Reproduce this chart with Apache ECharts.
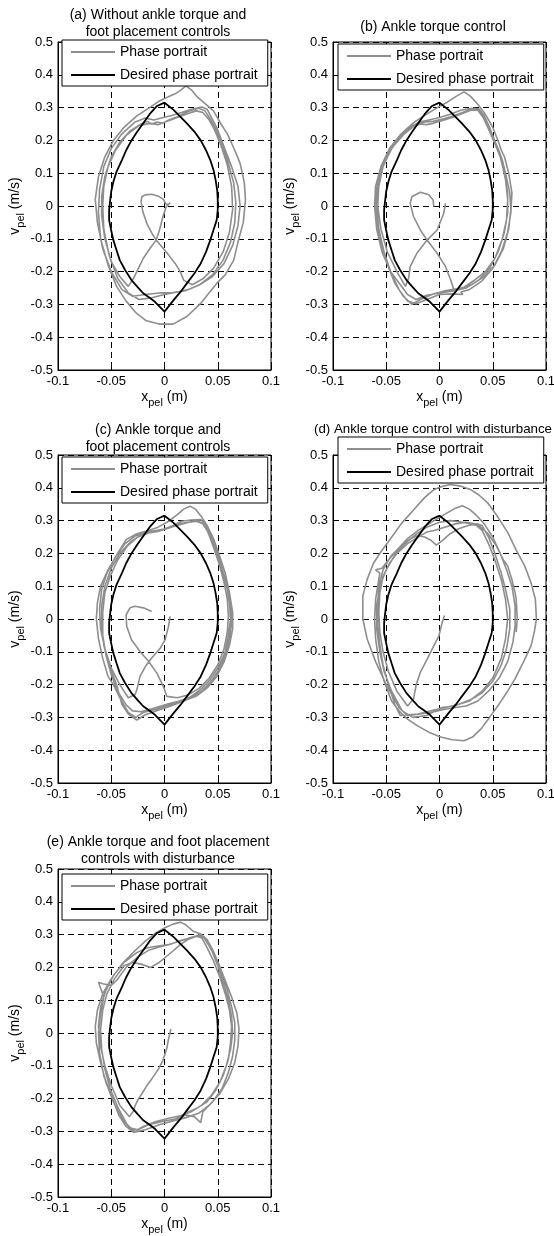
<!DOCTYPE html>
<html>
<head>
<meta charset="utf-8">
<script src="https://cdn.jsdelivr.net/npm/echarts@6/dist/echarts.min.js"></script>
<style>
  html, body { margin: 0; padding: 0; background: #fff; }
  #chart { width: 554px; height: 1236px; }
</style>
</head>
<body>
<div id="chart"></div>
<script>
// Axis ranges and tick spacing (pelvis position in m, pelvis velocity in m/s)
const xTicks = [-0.1, -0.05, 0, 0.05, 0.1];
const yTicks = [-0.5, -0.4, -0.3, -0.2, -0.1, 0, 0.1, 0.2, 0.3, 0.4, 0.5];

const legendNames = ['Phase portrait', 'Desired phase portrait'];

const panelTitles = [
  '(a) Without ankle torque and\nfoot placement controls',
  '(b) Ankle torque control',
  '(c) Ankle torque and\nfoot placement controls',
  '(d) Ankle torque control with disturbance',
  '(e) Ankle torque and foot placement\ncontrols with disturbance'
];

// Reference orbit [x_pel, v_pel]
const desiredPortrait = [
  [0,0.315],[-0.007,0.305],[-0.014,0.28],[-0.02,0.252],[-0.026,0.225],[-0.031,0.2],[-0.036,0.17],
  [-0.04,0.14],[-0.045,0.105],[-0.048,0.074],[-0.05,0.045],[-0.051,0.018],[-0.052,-0.012],[-0.052,-0.043],
  [-0.05,-0.075],[-0.048,-0.104],[-0.045,-0.135],[-0.042,-0.165],[-0.037,-0.195],[-0.031,-0.226],
  [-0.025,-0.248],[-0.02,-0.266],[-0.014,-0.28],[-0.009,-0.292],[0,-0.322],[0.0085,-0.287],[0.015,-0.262],
  [0.021,-0.236],[0.028,-0.206],[0.034,-0.175],[0.039,-0.14],[0.043,-0.104],[0.046,-0.073],[0.049,-0.043],
  [0.05,-0.012],[0.05,0.018],[0.0495,0.048],[0.048,0.079],[0.046,0.11],[0.043,0.14],[0.039,0.17],
  [0.034,0.2],[0.028,0.227],[0.021,0.252],[0.015,0.272],[0.0085,0.293],[0,0.315]
];

// Measured trajectories [x_pel, v_pel]
const phaseA = [
  [0.0054,0.010],[0.0016,-0.002],[-0.0015,-0.033],[-0.0047,-0.073],[-0.0078,-0.104],[-0.0135,-0.129],
  [-0.020,-0.16],[-0.0245,-0.19],[-0.029,-0.22],[-0.034,-0.245],
  [-0.042,-0.215],[-0.05,-0.17],[-0.056,-0.1],[-0.059,-0.03],[-0.059,0.03],[-0.056,0.09],[-0.05,0.15],
  [-0.042,0.195],[-0.032,0.23],[-0.022,0.25],[-0.016,0.258],[-0.012,0.25],[-0.007,0.256],[-0.002,0.252],
  [0.004,0.262],[0.012,0.272],[0.022,0.288],[0.032,0.298],[0.038,0.29],[0.043,0.265],[0.048,0.235],
  [0.054,0.19],[0.06,0.13],[0.065,0.07],[0.067,0.01],[0.066,-0.05],[0.062,-0.11],[0.055,-0.165],
  [0.045,-0.21],[0.033,-0.24],[0.02,-0.258],[0.008,-0.264],[-0.005,-0.265],[-0.018,-0.27],[-0.03,-0.275],
  [-0.04,-0.255],
  [-0.05,-0.2],[-0.058,-0.13],[-0.063,-0.05],[-0.065,0.02],[-0.062,0.09],[-0.056,0.15],[-0.048,0.2],
  [-0.038,0.24],[-0.026,0.275],[-0.014,0.3],[-0.005,0.32],[0.003,0.332],[0.01,0.342],[0.016,0.355],
  [0.02,0.366],[0.025,0.355],[0.03,0.335],[0.037,0.315],[0.046,0.29],[0.053,0.25],[0.059,0.22],
  [0.066,0.17],[0.071,0.13],[0.075,0.07],[0.076,0.018],[0.074,-0.05],[0.069,-0.11],[0.065,-0.165],
  [0.057,-0.21],[0.049,-0.236],[0.041,-0.268],[0.034,-0.297],[0.021,-0.337],[0.008,-0.36],[-0.005,-0.36],
  [-0.017,-0.35],[-0.027,-0.325],[-0.036,-0.29],[-0.045,-0.245],
  [-0.053,-0.18],[-0.06,-0.1],[-0.062,-0.02],[-0.061,0.05],[-0.057,0.12],[-0.05,0.175],[-0.04,0.22],
  [-0.028,0.255],[-0.018,0.268],[-0.01,0.262],[-0.003,0.268],[0.006,0.275],[0.016,0.285],[0.026,0.296],
  [0.035,0.302],[0.04,0.295],[0.044,0.27],[0.049,0.24],[0.056,0.18],[0.063,0.12],[0.069,0.06],[0.071,0.0],
  [0.069,-0.06],[0.064,-0.12],[0.056,-0.175],[0.045,-0.215],[0.033,-0.24],[0.022,-0.255],[0.012,-0.262],
  [0.0,-0.27],[-0.012,-0.28],[-0.024,-0.285],[-0.034,-0.265],
  [-0.044,-0.22],[-0.052,-0.15],[-0.057,-0.07],[-0.058,0.0],[-0.057,0.06],[-0.053,0.12],[-0.046,0.17],
  [-0.036,0.215],[-0.024,0.245],[-0.014,0.252],[-0.006,0.248],[0.002,0.258],[0.012,0.27],[0.022,0.282],
  [0.03,0.29],[0.036,0.285],[0.042,0.262],[0.047,0.232],[0.053,0.185],[0.059,0.125],[0.063,0.06],
  [0.064,-0.01],[0.061,-0.08],[0.055,-0.14],[0.046,-0.19],[0.036,-0.222],[0.026,-0.24],
  [0.018,-0.226],[0.0148,-0.2],[0.010,-0.175],[0.0038,-0.149],[-0.0025,-0.124],[-0.0078,-0.104],
  [-0.0119,-0.083],[-0.0166,-0.053],[-0.0204,-0.017],[-0.022,0.013],[-0.0213,0.028],[-0.018,0.034],
  [-0.012,0.036],[-0.0057,0.030],[-0.001,0.020],[0.0013,0.006],[0.004,0.005]
];

const phaseB = [
  [0.0057,0.008],[0.004,-0.022],[-0.0022,-0.073],[-0.0117,-0.104],[-0.0212,-0.144],[-0.0275,-0.185],
  [-0.029,-0.22],[-0.032,-0.245],
  [-0.04,-0.2],[-0.049,-0.14],[-0.055,-0.07],[-0.058,0.0],[-0.057,0.06],[-0.053,0.12],[-0.046,0.17],
  [-0.037,0.21],[-0.027,0.24],[-0.018,0.25],[-0.012,0.248],[-0.006,0.252],[0.002,0.26],[0.012,0.27],
  [0.022,0.283],[0.03,0.293],[0.036,0.292],[0.041,0.27],[0.046,0.235],[0.052,0.19],[0.057,0.15],
  [0.061,0.1],[0.064,0.04],[0.064,-0.02],[0.061,-0.08],[0.055,-0.14],[0.047,-0.19],[0.037,-0.225],
  [0.025,-0.25],[0.012,-0.26],[0.0,-0.265],[-0.012,-0.272],[-0.022,-0.285],[-0.03,-0.27],
  [-0.046,-0.2],[-0.054,-0.14],[-0.059,-0.07],[-0.061,0.0],[-0.06,0.06],[-0.055,0.12],[-0.047,0.175],
  [-0.036,0.22],[-0.024,0.255],[-0.012,0.28],[-0.002,0.3],[0.008,0.318],[0.016,0.335],[0.023,0.348],
  [0.029,0.335],[0.036,0.31],[0.043,0.28],[0.05,0.24],[0.056,0.19],[0.058,0.17],[0.061,0.15],[0.065,0.1],
  [0.068,0.04],[0.067,-0.02],[0.064,-0.08],[0.058,-0.14],[0.05,-0.19],[0.04,-0.228],[0.028,-0.255],
  [0.02,-0.262],[0.022,-0.27],[0.012,-0.268],[0.0,-0.27],[-0.012,-0.285],[-0.022,-0.298],[-0.03,-0.29],
  [-0.038,-0.255],
  [-0.046,-0.2],[-0.052,-0.14],[-0.057,-0.07],[-0.059,0.0],[-0.058,0.07],[-0.052,0.13],[-0.044,0.18],
  [-0.033,0.22],[-0.022,0.248],[-0.014,0.256],[-0.006,0.258],[0.004,0.266],[0.014,0.276],[0.024,0.288],
  [0.033,0.298],[0.038,0.29],[0.043,0.26],[0.049,0.22],[0.055,0.175],[0.059,0.14],[0.062,0.1],[0.066,0.04],
  [0.067,-0.01],[0.065,-0.07],[0.06,-0.13],[0.052,-0.18],[0.042,-0.215],[0.03,-0.24],[0.018,-0.252],
  [0.006,-0.258],[-0.006,-0.268],[-0.018,-0.285],[-0.026,-0.3],[-0.034,-0.275],[-0.042,-0.235],
  [-0.05,-0.17],[-0.056,-0.1],[-0.06,-0.02],[-0.059,0.05],[-0.055,0.11],[-0.048,0.16],[-0.04,0.2],
  [-0.03,0.235],[-0.02,0.255],[-0.01,0.262],[0.0,0.27],[0.01,0.28],[0.02,0.292],[0.03,0.298],[0.037,0.296],
  [0.042,0.275],[0.047,0.24],[0.053,0.19],[0.058,0.14],[0.062,0.08],[0.064,0.02],[0.063,-0.04],
  [0.059,-0.1],[0.052,-0.16],[0.043,-0.2],[0.032,-0.228],[0.022,-0.25],[0.0136,-0.256],
  [0.0104,-0.225],[0.0057,-0.185],[-0.0022,-0.144],[-0.0117,-0.104],[-0.018,-0.073],[-0.0244,-0.032],
  [-0.0275,0.008],[-0.026,0.028],[-0.018,0.042],[-0.01,0.034],[-0.006,0.018],[-0.0054,-0.002]
];

const phaseC = [
  [0.0053,0.008],[0.0038,-0.022],[0.0006,-0.063],[-0.004,-0.089],[-0.012,-0.119],[-0.018,-0.145],
  [-0.023,-0.175],[-0.026,-0.216],[-0.0277,-0.231],
  [-0.034,-0.24],[-0.042,-0.2],[-0.05,-0.15],[-0.056,-0.09],[-0.06,-0.03],[-0.061,0.03],[-0.059,0.09],
  [-0.054,0.14],[-0.046,0.19],[-0.037,0.23],[-0.028,0.252],[-0.018,0.264],[-0.008,0.27],[0.002,0.276],
  [0.012,0.285],[0.022,0.294],[0.03,0.298],[0.036,0.29],[0.04,0.27],[0.045,0.235],[0.05,0.19],
  [0.055,0.14],[0.059,0.09],[0.062,0.04],[0.063,-0.01],[0.061,-0.06],[0.058,-0.1],[0.052,-0.15],
  [0.044,-0.19],[0.035,-0.22],[0.025,-0.24],[0.015,-0.252],[0.004,-0.262],[-0.008,-0.275],[-0.02,-0.285],
  [-0.027,-0.3],[-0.034,-0.285],
  [-0.042,-0.24],[-0.048,-0.2],[-0.053,-0.175],[-0.058,-0.12],[-0.062,-0.06],[-0.064,0.0],[-0.063,0.05],
  [-0.06,0.1],[-0.053,0.15],[-0.044,0.2],[-0.036,0.242],[-0.026,0.26],[-0.015,0.27],[-0.006,0.28],
  [0.004,0.298],[0.012,0.318],[0.018,0.335],[0.024,0.344],[0.029,0.335],[0.034,0.315],[0.04,0.285],
  [0.046,0.245],[0.052,0.19],[0.057,0.14],[0.061,0.08],[0.064,0.02],[0.064,-0.03],[0.061,-0.08],
  [0.056,-0.13],[0.049,-0.175],[0.04,-0.21],[0.03,-0.235],[0.018,-0.25],[0.006,-0.265],[-0.006,-0.278],
  [-0.018,-0.292],[-0.026,-0.308],[-0.034,-0.29],[-0.04,-0.26],
  [-0.045,-0.2],[-0.052,-0.14],[-0.057,-0.08],[-0.059,-0.02],[-0.059,0.04],[-0.056,0.1],[-0.05,0.155],
  [-0.042,0.2],[-0.032,0.235],[-0.022,0.256],[-0.012,0.266],[-0.002,0.272],[0.008,0.285],[0.016,0.298],
  [0.025,0.302],[0.034,0.303],[0.038,0.29],[0.043,0.26],[0.048,0.215],[0.053,0.165],[0.058,0.11],
  [0.061,0.05],[0.062,0.0],[0.06,-0.05],[0.057,-0.1],[0.051,-0.145],[0.043,-0.185],[0.034,-0.215],
  [0.024,-0.238],[0.014,-0.25],[0.002,-0.26],[-0.01,-0.272],[-0.022,-0.283],[-0.03,-0.28],[-0.036,-0.262],
  [-0.044,-0.22],[-0.05,-0.17],[-0.055,-0.11],[-0.058,-0.05],[-0.058,0.02],[-0.056,0.08],[-0.051,0.13],
  [-0.044,0.18],[-0.035,0.222],[-0.025,0.25],[-0.015,0.262],[-0.005,0.268],[0.005,0.278],[0.014,0.29],
  [0.024,0.296],[0.032,0.298],[0.038,0.286],[0.042,0.255],[0.047,0.21],[0.052,0.16],[0.056,0.11],
  [0.059,0.06],[0.06,0.01],[0.059,-0.04],[0.056,-0.09],[0.05,-0.14],[0.042,-0.18],[0.033,-0.21],
  [0.022,-0.232],[0.012,-0.24],[0.0022,-0.236],
  [-0.001,-0.206],[-0.0072,-0.165],[-0.015,-0.129],[-0.023,-0.099],[-0.031,-0.063],[-0.0355,-0.022],
  [-0.036,0.013],[-0.0324,0.034],[-0.0277,0.039],[-0.0198,0.034],[-0.012,0.023]
];

const phaseD = [
  [0.0047,0.011],[0.0025,-0.011],[-0.0006,-0.052],[-0.0054,-0.082],[-0.0117,-0.123],[-0.018,-0.163],
  [-0.0218,-0.199],[-0.0244,-0.244],
  [-0.03,-0.265],[-0.04,-0.22],[-0.048,-0.16],[-0.053,-0.1],[-0.056,-0.04],[-0.057,0.02],[-0.056,0.08],
  [-0.053,0.13],[-0.047,0.17],[-0.04,0.2],[-0.03,0.23],[-0.02,0.25],[-0.012,0.265],[-0.005,0.27],
  [0.005,0.28],[0.015,0.29],[0.025,0.295],[0.033,0.29],[0.04,0.27],[0.046,0.23],[0.052,0.18],[0.058,0.12],
  [0.062,0.06],[0.064,0.0],[0.062,-0.06],[0.058,-0.12],[0.05,-0.18],[0.04,-0.22],[0.028,-0.25],
  [0.016,-0.262],[0.005,-0.27],[-0.008,-0.28],[-0.02,-0.29],[-0.03,-0.295],[-0.038,-0.27],
  [-0.05,-0.2],[-0.06,-0.13],[-0.068,-0.06],[-0.072,0.0],[-0.072,0.07],[-0.068,0.12],[-0.062,0.17],
  [-0.055,0.205],[-0.047,0.24],[-0.036,0.29],[-0.024,0.334],[-0.014,0.37],[-0.005,0.395],[0.003,0.405],
  [0.01,0.41],[0.02,0.405],[0.029,0.395],[0.037,0.378],[0.045,0.355],[0.055,0.31],[0.064,0.264],
  [0.072,0.21],[0.08,0.162],[0.086,0.11],[0.09,0.06],[0.091,0.0],[0.089,-0.04],[0.086,-0.081],
  [0.079,-0.13],[0.071,-0.182],[0.063,-0.225],[0.055,-0.264],[0.047,-0.3],[0.039,-0.335],[0.031,-0.36],
  [0.023,-0.371],[0.012,-0.368],[0.001,-0.36],[-0.01,-0.345],[-0.021,-0.325],[-0.03,-0.305],
  [-0.037,-0.284],[-0.045,-0.25],
  [-0.052,-0.19],[-0.057,-0.13],[-0.06,-0.06],[-0.061,0.0],[-0.06,0.06],[-0.057,0.12],[-0.056,0.14],
  [-0.06,0.15],[-0.054,0.155],[-0.048,0.18],[-0.04,0.21],[-0.03,0.245],[-0.02,0.27],[-0.01,0.29],
  [0.0,0.31],[0.008,0.325],[0.015,0.338],[0.0215,0.345],[0.028,0.335],[0.035,0.315],[0.042,0.29],
  [0.05,0.25],[0.057,0.2],[0.063,0.15],[0.068,0.1],[0.071,0.04],[0.071,-0.02],[0.069,-0.07],[0.064,-0.13],
  [0.056,-0.18],[0.046,-0.22],[0.036,-0.25],[0.025,-0.265],[0.015,-0.27],[0.005,-0.275],[-0.008,-0.285],
  [-0.02,-0.29],[-0.03,-0.292],[-0.037,-0.294],[-0.042,-0.26],
  [-0.048,-0.2],[-0.053,-0.14],[-0.056,-0.08],[-0.058,-0.02],[-0.058,0.04],[-0.057,0.1],[-0.053,0.15],
  [-0.046,0.19],[-0.037,0.22],[-0.027,0.245],[-0.02,0.255],[-0.014,0.25],[-0.008,0.24],[-0.003,0.225],
  [0.003,0.24],[0.01,0.26],[0.018,0.275],[0.027,0.285],[0.035,0.29],[0.04,0.285],[0.046,0.25],
  [0.052,0.2],[0.058,0.14],[0.062,0.09],[0.066,0.03],[0.066,-0.03],[0.063,-0.09],[0.058,-0.14],
  [0.05,-0.19],[0.04,-0.225],[0.03,-0.245],[0.023,-0.254],[0.014,-0.265],[0.002,-0.27],[-0.012,-0.294],
  [-0.025,-0.3],[-0.035,-0.28],
  [-0.045,-0.22],[-0.052,-0.16],[-0.056,-0.1],[-0.059,-0.03],[-0.059,0.04],[-0.056,0.1],[-0.05,0.15],
  [-0.042,0.195],[-0.033,0.228],[-0.022,0.258],[-0.012,0.28],[0.0,0.295],[0.01,0.3],[0.02,0.296],
  [0.03,0.29],[0.038,0.282],[0.045,0.262],[0.053,0.225],[0.06,0.18],[0.064,0.162],[0.068,0.12],
  [0.071,0.08],[0.072,0.06],[0.073,0.0],[0.072,-0.04]
];

const phaseE = [
  [0.006,0.012],[0.0038,-0.018],[0.002,-0.049],[-0.0016,-0.084],[-0.0057,-0.11],[-0.012,-0.14],
  [-0.0167,-0.161],[-0.0214,-0.186],[-0.0245,-0.201],[-0.0277,-0.222],[-0.029,-0.237],
  [-0.033,-0.255],[-0.042,-0.22],[-0.05,-0.16],[-0.056,-0.1],[-0.06,-0.04],[-0.062,0.02],[-0.06,0.08],
  [-0.055,0.13],[-0.048,0.175],[-0.038,0.215],[-0.026,0.245],[-0.016,0.26],[-0.006,0.265],[0.004,0.27],
  [0.014,0.28],[0.024,0.29],[0.032,0.298],[0.037,0.29],[0.042,0.265],[0.048,0.23],[0.054,0.18],
  [0.059,0.13],[0.063,0.08],[0.066,0.03],[0.066,-0.02],[0.064,-0.07],[0.06,-0.12],[0.054,-0.17],
  [0.045,-0.21],[0.036,-0.24],[0.034,-0.273],[0.028,-0.255],[0.02,-0.25],[0.01,-0.262],[-0.002,-0.27],
  [-0.015,-0.28],[-0.025,-0.295],[-0.032,-0.29],[-0.04,-0.26],
  [-0.048,-0.21],[-0.055,-0.15],[-0.06,-0.09],[-0.064,-0.03],[-0.065,0.02],[-0.063,0.07],[-0.058,0.12],
  [-0.05,0.165],[-0.04,0.21],[-0.028,0.25],[-0.018,0.28],[-0.008,0.305],[0.0,0.32],[0.008,0.332],
  [0.015,0.338],[0.02,0.33],[0.027,0.31],[0.034,0.302],[0.04,0.285],[0.045,0.255],[0.051,0.21],
  [0.057,0.16],[0.063,0.11],[0.068,0.06],[0.07,0.012],[0.069,-0.04],[0.066,-0.09],[0.06,-0.14],
  [0.052,-0.185],[0.042,-0.22],[0.032,-0.245],[0.02,-0.258],[0.008,-0.268],[-0.005,-0.28],[-0.018,-0.295],
  [-0.029,-0.303],[-0.036,-0.285],[-0.043,-0.25],
  [-0.05,-0.19],[-0.057,-0.13],[-0.061,-0.06],[-0.062,0.0],[-0.06,0.06],[-0.057,0.11],[-0.062,0.155],
  [-0.058,0.15],[-0.05,0.145],[-0.045,0.16],[-0.036,0.2],[-0.025,0.232],[-0.015,0.252],[-0.005,0.262],
  [0.005,0.27],[0.015,0.282],[0.025,0.29],[0.033,0.3],[0.038,0.29],[0.044,0.255],[0.05,0.205],
  [0.055,0.155],[0.06,0.1],[0.063,0.05],[0.064,0.0],[0.062,-0.05],[0.058,-0.1],[0.052,-0.15],[0.044,-0.19],
  [0.035,-0.22],[0.025,-0.24],[0.015,-0.252],[0.004,-0.26],[-0.008,-0.27],[-0.02,-0.285],[-0.028,-0.3],
  [-0.035,-0.28],
  [-0.044,-0.225],[-0.051,-0.17],[-0.056,-0.11],[-0.059,-0.05],[-0.06,0.01],[-0.058,0.07],[-0.054,0.12],
  [-0.047,0.165],[-0.038,0.205],[-0.03,0.215],[-0.022,0.21],[-0.013,0.2],[-0.005,0.215],[0.002,0.234],
  [0.008,0.25],[0.015,0.27],[0.022,0.285],[0.03,0.295],[0.035,0.29],[0.04,0.26],[0.046,0.22],[0.052,0.17],
  [0.057,0.12],[0.061,0.07],[0.063,0.02],[0.062,-0.03],[0.06,-0.08],[0.055,-0.13],[0.048,-0.175],
  [0.04,-0.21],[0.03,-0.23],[0.021,-0.242]
];

const phaseSeries = [phaseA, phaseB, phaseC, phaseD, phaseE];

// Panel placement on the page
const FONT = '"Liberation Sans", Arial, Helvetica, sans-serif';
const PLOT_W = 213, PLOT_H = 328;
const layout = [
  { left: 58,  top: 42,  legendLeft: 62,  legendTop: 40,  titleX: 158, titleY: 23.5, titleSize: 14 },
  { left: 333, top: 42,  legendLeft: 338, legendTop: 44,  titleX: 433, titleY: 27,   titleSize: 14 },
  { left: 58,  top: 455, legendLeft: 62,  legendTop: 457, titleX: 158, titleY: 439,  titleSize: 14 },
  { left: 333, top: 455, legendLeft: 338, legendTop: 437, titleX: 433, titleY: 429,  titleSize: 13.3 },
  { left: 58,  top: 869, legendLeft: 62,  legendTop: 874, titleX: 158, titleY: 851,  titleSize: 14 }
];

const fmt = v => String(Math.round(v * 100) / 100);

const axisNameRich = {
  m: { fontFamily: FONT, fontSize: 14, color: '#000', lineHeight: 15, verticalAlign: 'top' },
  s: { fontFamily: FONT, fontSize: 11, color: '#000', lineHeight: 25, verticalAlign: 'middle' }
};

const grids = [], xAxes = [], yAxes = [], legends = [], series = [], graphics = [];

layout.forEach((p, i) => {
  grids.push({
    left: p.left, top: p.top, width: PLOT_W, height: PLOT_H,
    show: true, borderColor: '#000', borderWidth: 1, backgroundColor: 'transparent',
    containLabel: false, outerBoundsMode: 'none'
  });
  xAxes.push({
    type: 'value', gridIndex: i,
    min: xTicks[0], max: xTicks[xTicks.length - 1], interval: xTicks[1] - xTicks[0],
    axisLine: { show: true, onZero: false, lineStyle: { color: '#000', width: 1 } },
    axisTick: { show: true, inside: true, length: 4, lineStyle: { color: '#000' } },
    splitLine: { show: true, lineStyle: { color: '#000', width: 1, type: [6, 4] } },
    axisLabel: { show: true, margin: 5, color: '#000', fontFamily: FONT, fontSize: 13, formatter: fmt,
                 showMinLabel: true, showMaxLabel: true },
    name: '{m|x}{s|pel}{m| (m)}', nameLocation: 'middle', nameGap: 20,
    nameTextStyle: { rich: axisNameRich }
  });
  yAxes.push({
    type: 'value', gridIndex: i,
    min: yTicks[0], max: yTicks[yTicks.length - 1], interval: yTicks[1] - yTicks[0],
    axisLine: { show: true, onZero: false, lineStyle: { color: '#000', width: 1 } },
    axisTick: { show: true, inside: true, length: 4, lineStyle: { color: '#000' } },
    splitLine: { show: true, lineStyle: { color: '#000', width: 1, type: [6, 4] } },
    axisLabel: { show: true, margin: 5, color: '#000', fontFamily: FONT, fontSize: 13, formatter: fmt,
                 showMinLabel: true, showMaxLabel: true },
    name: '{m|v}{s|pel}{m| (m/s)}', nameLocation: 'middle', nameGap: 25, nameRotate: 90,
    nameTextStyle: { rich: axisNameRich }
  });
  legends.push({
    left: p.legendLeft, top: p.legendTop, orient: 'vertical', data: legendNames,
    icon: 'rect', itemWidth: 44, itemHeight: 2, itemGap: 7, padding: [4, 10, 3, 9],
    backgroundColor: '#fff', borderColor: '#000', borderWidth: 1, borderRadius: 0,
    selectedMode: false, z: 10,
    textStyle: { fontFamily: FONT, fontSize: 14, lineHeight: 16, color: '#000' }
  });
  series.push({
    type: 'line', name: legendNames[0], xAxisIndex: i, yAxisIndex: i,
    data: phaseSeries[i], symbol: 'none', showSymbol: false, smooth: false, clip: true,
    lineStyle: { color: '#8e8e8e', width: 1.6 }, itemStyle: { color: '#8e8e8e' }, z: 2
  });
  series.push({
    type: 'line', name: legendNames[1], xAxisIndex: i, yAxisIndex: i,
    data: desiredPortrait, symbol: 'none', showSymbol: false, smooth: false, clip: true,
    lineStyle: { color: '#000', width: 1.8 }, itemStyle: { color: '#000' }, z: 3
  });
  graphics.push({
    type: 'text', x: p.titleX, y: p.titleY, z: 20,
    style: {
      text: panelTitles[i], font: p.titleSize + 'px ' + FONT, fill: '#000', lineHeight: 17,
      align: 'center', verticalAlign: 'middle', textAlign: 'center', textVerticalAlign: 'middle'
    }
  });
});

const chart = echarts.init(document.getElementById('chart'), null, { renderer: 'canvas' });
chart.setOption({
  animation: false,
  backgroundColor: '#fff',
  grid: grids,
  xAxis: xAxes,
  yAxis: yAxes,
  legend: legends,
  series: series,
  graphic: graphics
});
</script>
</body>
</html>
